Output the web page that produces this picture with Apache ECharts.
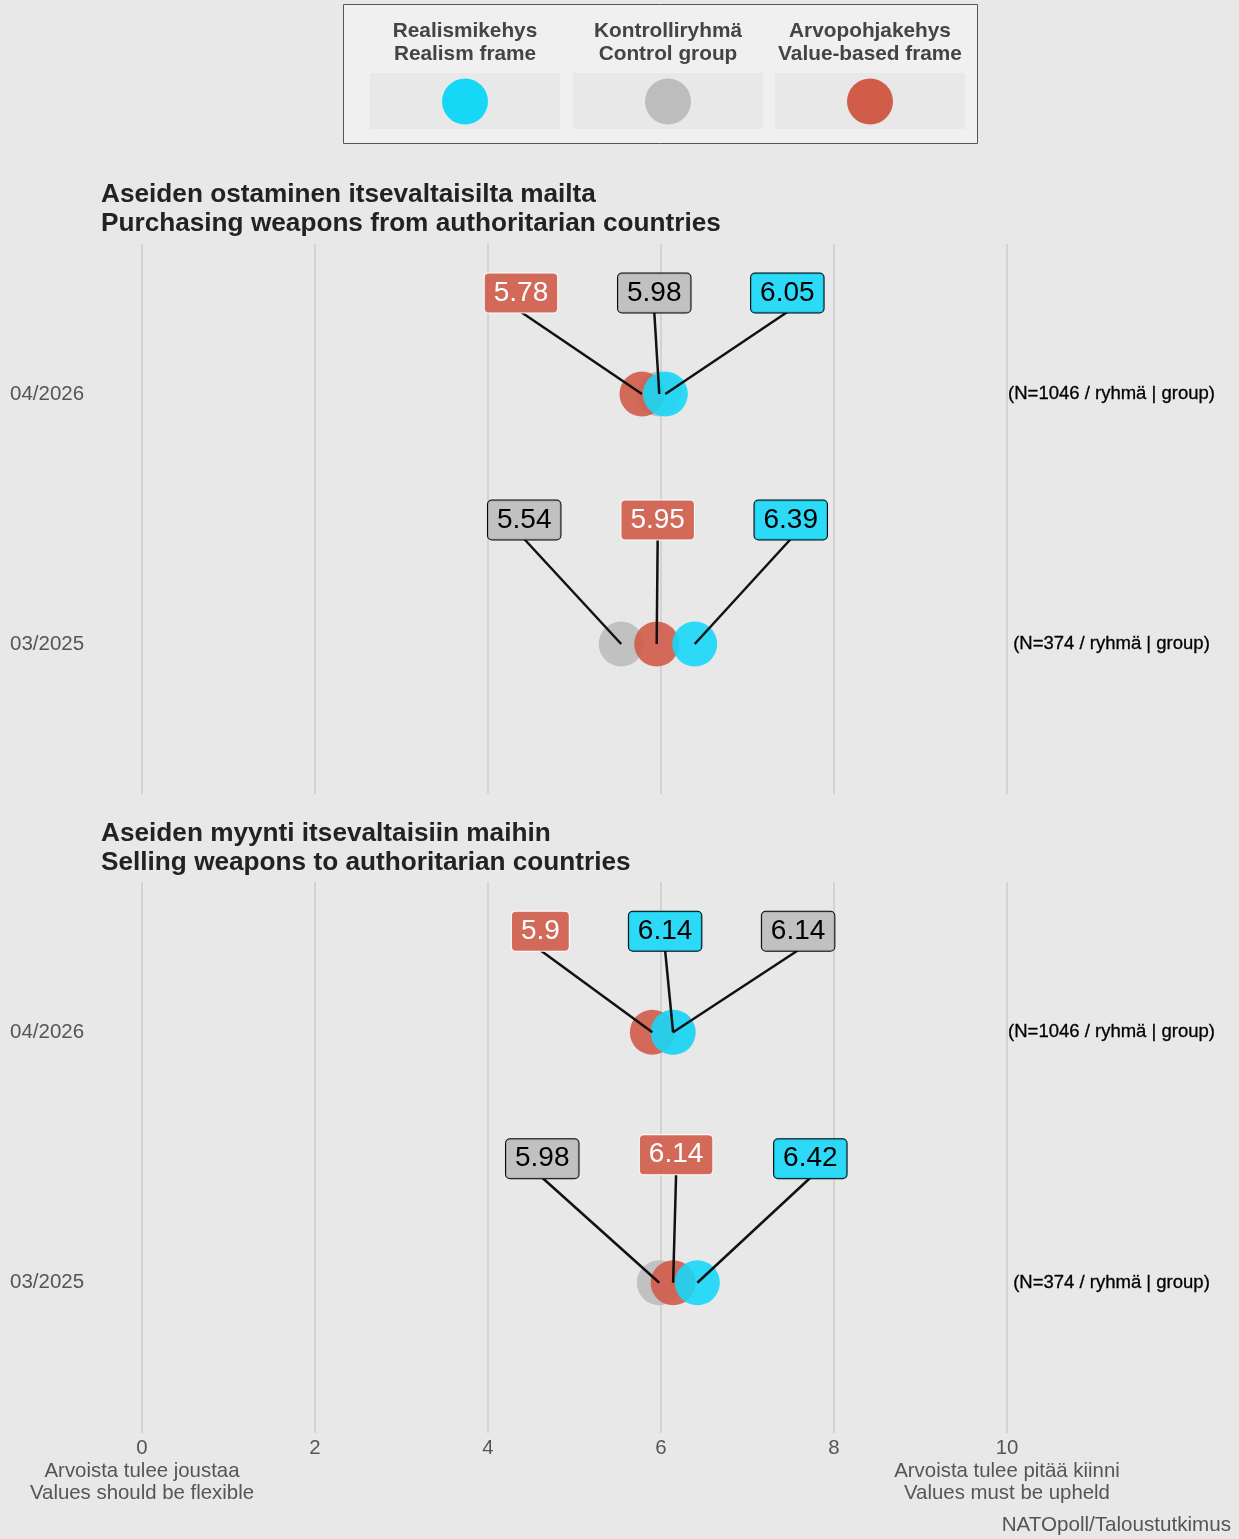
<!DOCTYPE html>
<html><head><meta charset="utf-8">
<script src="https://cdn.jsdelivr.net/npm/echarts@6/dist/echarts.min.js"></script>
<style>html,body{margin:0;padding:0;background:#e8e8e8}#c{width:1239px;height:1539px}</style>
</head><body><div id="c"></div>
<script>
// ---------- data ----------
const periods = ['03/2025', '04/2026'];
const sampleNotes = ['(N=374 / ryhmä | group)', '(N=1046 / ryhmä | group)'];
const groupsFi = ['Realismikehys', 'Kontrolliryhmä', 'Arvopohjakehys'];
const groupsEn = ['Realism frame', 'Control group', 'Value-based frame'];
const questionsFi = ['Aseiden ostaminen itsevaltaisilta mailta', 'Aseiden myynti itsevaltaisiin maihin'];
const questionsEn = ['Purchasing weapons from authoritarian countries', 'Selling weapons to authoritarian countries'];
const xTicks = [0, 2, 4, 6, 8, 10];
const lowEndLabel = ['Arvoista tulee joustaa', 'Values should be flexible'];
const highEndLabel = ['Arvoista tulee pitää kiinni', 'Values must be upheld'];
const sourceText = 'NATOpoll/Taloustutkimus';

// values by period [03/2025, 04/2026]
const buyRealism = [6.39, 6.05];
const buyControl = [5.54, 5.98];
const buyValue = [5.95, 5.78];
const sellRealism = [6.42, 6.14];
const sellControl = [5.98, 6.14];
const sellValue = [6.14, 5.90];

// ---------- styles / layout ----------
const FONT = "'Liberation Sans', Arial, Helvetica, sans-serif";
const groupColors = ['#17d7f7', '#bdbdbd', '#d05c49'];
const boxFills = ['rgba(23,215,247,0.9)', 'rgba(189,189,189,0.9)', 'rgba(208,92,73,0.9)'];
const boxText = ['#000', '#000', '#fff'];
const boxBorder = ['#000', '#000', '#fff'];
// label offsets (px) [panel][group][period]
const labelOffsets = [
  [[[96, -124], [122, -101]], [[-97, -124], [-5, -101]], [[1, -124], [-121, -101]]],
  [[[113, -124], [-8, -101]], [[-117, -124], [125, -101]], [[3, -128], [-112, -101]]]
];
const panelValues = [
  [buyRealism, buyControl, buyValue],
  [sellRealism, sellControl, sellValue]
];
const grids = [
  { left: 142, top: 244, width: 865, height: 550 },
  { left: 142, top: 882, width: 865, height: 551 }
];
const titleTops = [180, 819];

const chart = echarts.init(document.getElementById('c'), null, { renderer: 'canvas' });

const xAxes = [], yAxes = [], series = [], titles = [];
grids.forEach((g, i) => {
  xAxes.push({
    type: 'value', gridIndex: i, min: 0, max: 10, interval: 2,
    axisLine: { show: false }, axisTick: { show: false },
    splitLine: { show: true, lineStyle: { color: '#d3d3d3', width: 2 } },
    axisLabel: {
      show: i === 1, margin: 4, color: '#555', fontSize: 20.4, lineHeight: 22.7, fontFamily: FONT,
      showMinLabel: true, showMaxLabel: true, hideOverlap: false,
      formatter: v => v === 0 ? '0\n' + lowEndLabel.join('\n') : (v === 10 ? '10\n' + highEndLabel.join('\n') : String(v))
    }
  });
  yAxes.push({
    type: 'value', gridIndex: i, min: -0.6, max: 1.6, position: 'left',
    axisLine: { show: false }, axisTick: { show: false }, splitLine: { show: false },
    axisLabel: {
      customValues: [0, 1], formatter: v => periods[Math.round(v)],
      align: 'left', margin: 132, color: '#555', fontSize: 20.5, fontFamily: FONT,
      padding: [3, 0, 0, 0]
    }
  });
  yAxes.push({
    type: 'value', gridIndex: i, min: -0.6, max: 1.6, position: 'right',
    axisLine: { show: false }, axisTick: { show: false }, splitLine: { show: false },
    axisLabel: {
      customValues: [0, 1], formatter: v => sampleNotes[Math.round(v)],
      align: 'center', margin: 104.5, color: '#000', fontSize: 18.5, fontFamily: FONT,
      textBorderColor: '#000', textBorderWidth: 0.3, padding: [3, 0, 0, 0]
    }
  });
  titles.push({
    text: questionsFi[i] + '\n' + questionsEn[i], left: 101, top: titleTops[i], padding: 0,
    textStyle: { fontFamily: FONT, fontSize: 26.2, fontWeight: 'bold', color: '#222', lineHeight: 29 }
  });
  // points: control (gray), value (red), realism (cyan) drawing order
  [1, 2, 0].forEach(gi => {
    series.push({
      type: 'scatter', xAxisIndex: i, yAxisIndex: i * 2, symbol: 'circle', symbolSize: 45,
      silent: true, itemStyle: { color: groupColors[gi], opacity: 0.9 },
      data: panelValues[i][gi].map((v, p) => [v, p])
    });
  });
  // labels with leader lines
  const labelData = [];
  [1, 2, 0].forEach(gi => panelValues[i][gi].forEach((v, p) => labelData.push([v, p, gi])));
  series.push({
    type: 'custom', xAxisIndex: i, yAxisIndex: i * 2, z: 10, silent: true, clip: false,
    data: labelData,
    renderItem: (params, api) => {
      const x = api.value(0), p = api.value(1), gi = api.value(2);
      const pt = api.coord([x, p]);
      const off = labelOffsets[i][gi][p];
      const cx = pt[0] + off[0], cy = pt[1] + off[1];
      return {
        type: 'group',
        children: [
          { type: 'line', shape: { x1: pt[0], y1: pt[1], x2: cx, y2: cy + 19 },
            style: { stroke: '#111', lineWidth: 2.5 } },
          { type: 'text', x: cx, y: cy, z2: 5,
            style: { text: String(x), fill: boxText[gi], fontSize: 28, fontFamily: FONT,
              align: 'center', verticalAlign: 'middle', lineHeight: 31,
              backgroundColor: boxFills[gi], borderColor: boxBorder[gi], borderWidth: 1,
              borderRadius: 4, padding: [6, 9, 2, 9] } }
        ]
      };
    }
  });
});

titles.push({
  text: sourceText, right: 8, top: 1515, padding: 0,
  textStyle: { fontFamily: FONT, fontSize: 20.6, fontWeight: 'normal', color: '#555' }
});

// legend drawn as graphic
const legendChildren = [
  { type: 'rect', shape: { x: 343.5, y: 4.5, width: 634, height: 139 },
    style: { fill: '#f0f0f0', stroke: '#555', lineWidth: 1 } }
];
const keyCenters = [465, 668, 870];
groupsFi.forEach((name, gi) => {
  const cx = keyCenters[gi];
  legendChildren.push({ type: 'text', x: cx, y: 43,
    style: { text: name + '\n' + groupsEn[gi], fill: '#444', fontFamily: FONT, fontSize: 20.8,
      fontWeight: 'bold', align: 'center', verticalAlign: 'middle', lineHeight: 23 } });
  legendChildren.push({ type: 'rect', shape: { x: cx - 95, y: 73, width: 190, height: 56 },
    style: { fill: '#e8e8e8' } });
  legendChildren.push({ type: 'circle', shape: { cx: cx, cy: 101.5, r: 23 },
    style: { fill: groupColors[gi] } });
});

chart.setOption({
  animation: false,
  backgroundColor: '#e8e8e8',
  title: titles,
  grid: grids.map(g => Object.assign({ containLabel: false, outerBoundsMode: 'none' }, g)),
  xAxis: xAxes,
  yAxis: yAxes,
  series: series,
  graphic: [{ type: 'group', silent: true, children: legendChildren }]
});
</script>
</body></html>
